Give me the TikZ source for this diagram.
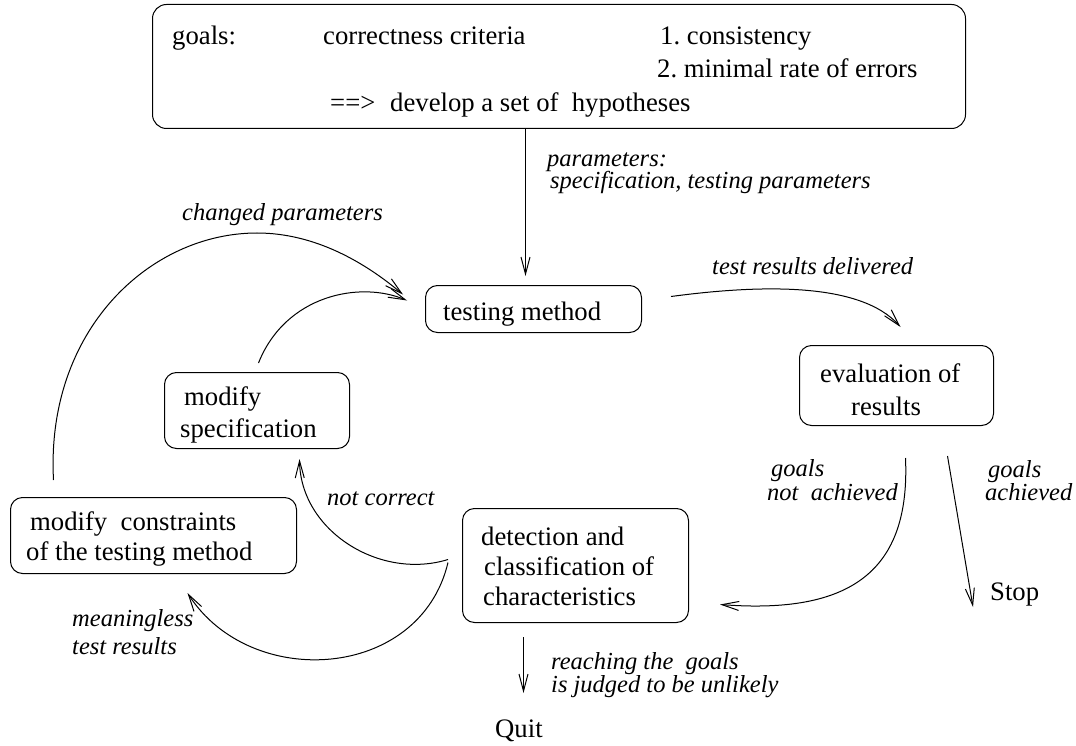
\documentclass[tikz,border=0pt]{standalone}
\usepackage{fontspec}
\setmainfont{Liberation Serif}
\usetikzlibrary{arrows.meta}
\frenchspacing

\tikzset{
  box/.style={draw, line width=1pt, rounded corners=12pt, anchor=north west, inner sep=0pt},
  txt/.style={anchor=base west, inner sep=0pt, font=\fontsize{26.7}{32}\selectfont},
  lbl/.style={anchor=base west, inner sep=0pt, font=\fontsize{24.5}{28}\selectfont\itshape},
  arr/.style={line width=1pt, -{Straight Barb[length=17pt,width=9pt]}},
}

\begin{document}
\begin{tikzpicture}[x=1pt,y=-1pt]
\useasboundingbox (0,0) rectangle (1076,746);

% ---- boxes ----
\node[box, rounded corners=14pt, minimum width=813pt, minimum height=124pt] (top) at (152,4) {};
\node[box, minimum width=216pt, minimum height=47pt]  (tm) at (425,285) {};
\node[box, minimum width=185pt, minimum height=76pt]  (ms) at (164,372) {};
\node[box, minimum width=286pt, minimum height=76pt]  (mc) at (10,497) {};
\node[box, minimum width=226pt, minimum height=114pt] (dc) at (462,508) {};
\node[box, minimum width=194pt, minimum height=80pt]  (ev) at (799,345) {};

% ---- text of the goals box ----
\node[txt] (g1) at (172,45) {goals:};
\node[txt] (g2) at (323,45) {correctness criteria};
\node[txt] (g3) at (660,45) {1. consistency};
\node[txt] (g4) at (657,78) {2. minimal rate of errors};
\node[txt] (g5) at (330,112) {==>};
\node[txt] (g6) at (390,112) {develop a set of\ \ hypotheses};

% ---- text of the process boxes ----
\node[txt] (tmt) at (443,320) {testing method};
\node[txt] (ms1) at (184,405) {modify};
\node[txt] (ms2) at (180,437) {specification};
\node[txt] (mc1) at (30,530) {modify\ \ constraints};
\node[txt] (mc2) at (26,560) {of the testing method};
\node[txt] (dc1) at (481,545) {detection and};
\node[txt] (dc2) at (484,575) {classification of};
\node[txt] (dc3) at (483,605) {characteristics};
\node[txt] (ev1) at (820,382) {evaluation of};
\node[txt] (ev2) at (851,415) {results};
\node[txt] (stop) at (990,600) {Stop};
\node[txt] (quit) at (495,737) {Quit};

% ---- connector labels ----
\node[lbl] (par1) at (547,167) {parameters:};
\node[lbl] (par2) at (550,189) {specification, testing parameters};
\node[lbl] (chg)  at (182,221) {changed parameters};
\node[lbl] (trd)  at (712,274) {test results delivered};
\node[lbl] (gn1)  at (771,476) {goals};
\node[lbl] (gn2)  at (767,500) {not\ \ achieved};
\node[lbl] (ga1)  at (988,477) {goals};
\node[lbl] (ga2)  at (985,500) {achieved};
\node[lbl] (nc)   at (327,505) {not correct};
\node[lbl] (ml1)  at (72,626) {meaningless};
\node[lbl] (ml2)  at (72,654) {test results};
\node[lbl] (rg1)  at (551,669) {reaching the\ \ goals};
\node[lbl] (rg2)  at (551,692) {is judged to be unlikely};

% ---- connectors ----
\coordinate (ptip) at ([shift={(-8,-9)}]tm.north);
\draw[arr] (top.south -| ptip) -- (ptip);

\draw[arr] ([shift={(29,-12.5)}]tm.east)
  .. controls +(90,-12) and +(-40,-45) .. ([shift={(4,-18)}]ev.north);

\draw[arr] ([shift={(9,32)}]ev.south)
  .. controls +(5,113) and +(131,10) .. ([shift={(31,39)}]dc.east);

\draw[arr] ([shift={(51,30)}]ev.south) -- ([shift={(-17,7)}]stop.base west);

\draw[arr] ([shift={(-52,14)}]dc.south) -- ++(0,56);

\draw[arr] ([shift={(-14,-6)}]dc.west)
  .. controls +(-68,21) and +(1,72) .. ([shift={(42.5,10)}]ms.south);

\draw[arr] ([shift={(-14,-3)}]dc.west)
  .. controls +(-28,118) and +(63,98) .. ([shift={(34,19)}]mc.south);

\coordinate (arcTop) at (257,233);
\draw[arr] ([shift={(-100,-17)}]mc.north)
  .. controls +(-8,-150) and +(-107,0) .. (arcTop)
  .. controls +(58,0) and +(-38,-32) .. ([shift={(-22,-14.5)}]tm.west);

\draw[arr] ([shift={(1.5,-9)}]ms.north)
  .. controls +(27,-68) and +(-47,-20) .. ([shift={(-18,-8.5)}]tm.west);
\end{tikzpicture}
\end{document}
